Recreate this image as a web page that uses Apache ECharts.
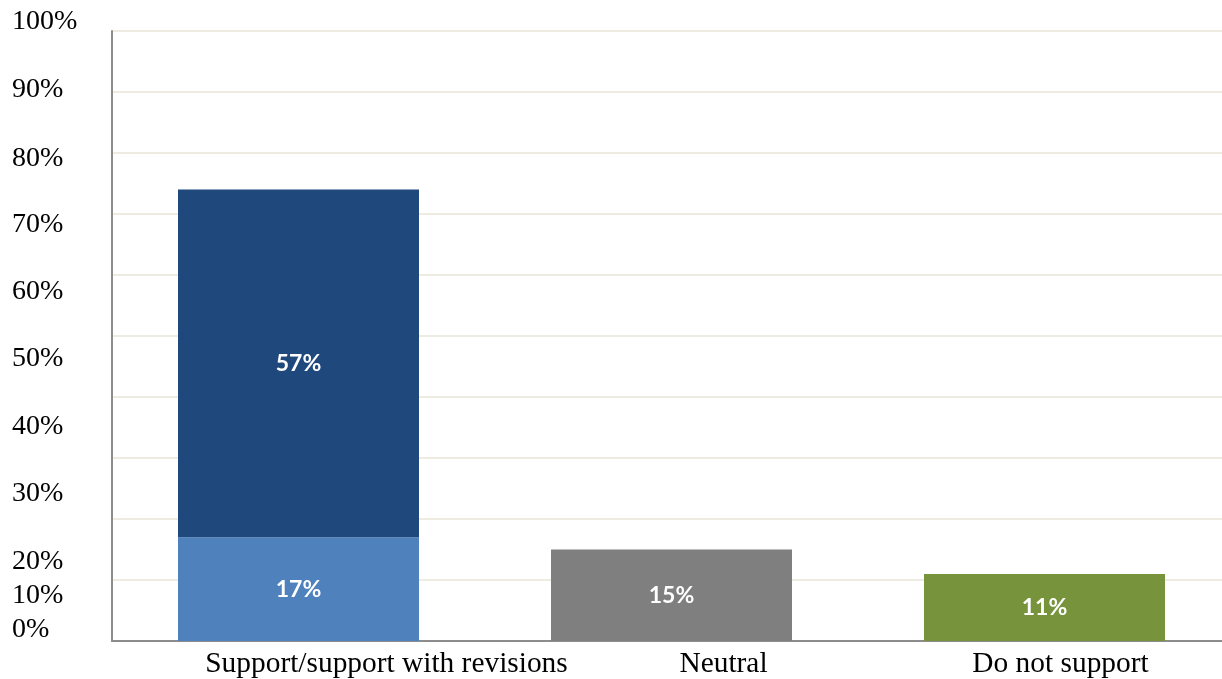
<!DOCTYPE html>
<html>
<head>
<meta charset="utf-8">
<script src="https://cdn.jsdelivr.net/npm/echarts@6/dist/echarts.min.js"></script>
<style>html,body{margin:0;padding:0;background:#fff;overflow:hidden;width:1222px;height:679px}#c{width:1250px;height:679px}</style>
</head>
<body>
<div id="c"></div>
<script>
const categories = ['Support/support with revisions', 'Neutral', 'Do not support'];
const supportWithRevisions = [17, null, null];
const supportFull = [57, null, null];
const neutral = [null, 15, null];
const doNotSupport = [null, null, 11];
const yTickLabels = ['0%', '10%', '20%', '30%', '40%', '50%', '60%', '70%', '80%', '90%', '100%'];

const chart = echarts.init(document.getElementById('c'));
const labelStyle = {
  show: true, position: 'inside', color: '#fff', fontFamily: 'Lato', fontWeight: 'bold', fontSize: 23,
  formatter: p => p.value + '%'
};
const labelSlots = [0, 5.6, 11.3, 22.4, 33.4, 44.6, 55.6, 66.6, 77.6, 88.8, 100];
function mk(name, data, color) {
  return { name, type: 'bar', stack: 'a', data, barWidth: 241, itemStyle: { color }, label: labelStyle, xAxisIndex: 0, yAxisIndex: 0 };
}
chart.setOption({
  animation: false,
  grid: [
    { left: 112, width: 1119, top: 31, bottom: 38 },
    { left: 112, width: 1119, top: 22, bottom: 49 },
    { left: 218, width: 1011, top: 31, bottom: 38 }
  ],
  xAxis: [
    { type: 'category', data: categories, gridIndex: 0,
      axisLine: { lineStyle: { color: '#8c8c8c', width: 2 } }, axisTick: { show: false },
      axisLabel: { show: false } },
    { type: 'category', data: categories, gridIndex: 1, show: false },
    { type: 'category', data: categories, gridIndex: 2,
      axisLine: { show: false }, axisTick: { show: false },
      axisLabel: { interval: 0, color: '#000', fontFamily: 'Liberation Serif', fontSize: 29.4, margin: 10 } }
  ],
  yAxis: [
    { type: 'value', min: 0, max: 100, interval: 10, gridIndex: 0,
      axisLine: { show: true, lineStyle: { color: '#8c8c8c', width: 2 } }, axisTick: { show: false },
      axisLabel: { show: false },
      splitLine: { lineStyle: { color: '#eeece1', width: 2 } } },
    { type: 'value', min: 0, max: 100, gridIndex: 1,
      axisLine: { show: false }, axisTick: { show: false }, splitLine: { show: false },
      axisLabel: { customValues: labelSlots, align: 'left', margin: 100, color: '#000',
        fontFamily: 'Liberation Serif', fontSize: 28,
        formatter: v => yTickLabels[labelSlots.indexOf(v)] } },
    { type: 'value', min: 0, max: 100, gridIndex: 2, show: false }
  ],
  series: [
    mk('Support with revisions', supportWithRevisions, '#4f81bd'),
    mk('Support', supportFull, '#1f497d'),
    mk('Neutral', neutral, '#7f7f7f'),
    mk('Do not support', doNotSupport, '#77933c')
  ]
});
</script>
</body>
</html>
